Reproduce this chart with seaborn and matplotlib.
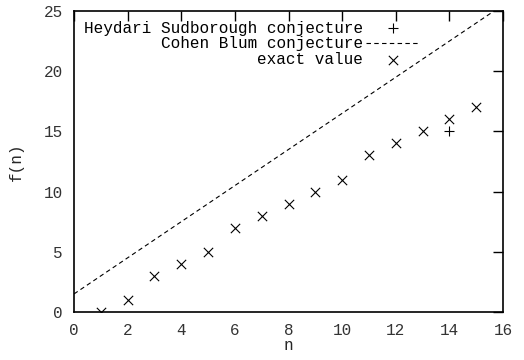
import matplotlib
matplotlib.use("Agg")
import matplotlib.pyplot as plt
import seaborn as sns
import pandas as pd

# data
exact_n = [1, 2, 3, 4, 5, 6, 7, 8, 9, 10, 11, 12, 13, 14, 15]
exact_f = [0, 1, 3, 4, 5, 7, 8, 9, 10, 11, 13, 14, 15, 16, 17]
hs_n = [14]
hs_f = [15]
cb_n = [0, 16]
cb_f = [1.5, 25.5]
x_ticks = [0, 2, 4, 6, 8, 10, 12, 14, 16]
y_ticks = [0, 5, 10, 15, 20, 25]

sns.set_style("white")
plt.rcParams['font.family'] = ['Liberation Mono', 'DejaVu Sans Mono']
plt.rcParams['font.size'] = 11.5

fig = plt.figure(figsize=(5.24, 3.6), dpi=100)
ax = fig.add_axes([74/524, 1-312/360, (503-74)/524, (312-11)/360])

sns.scatterplot(x=hs_n, y=hs_f, marker="+", s=45, color="black",
                linewidth=0.8, ax=ax, label="Heydari Sudborough conjecture")
sns.lineplot(x=cb_n, y=cb_f, color="black", linestyle=(0, (4, 3)),
             linewidth=0.8, ax=ax, label="Cohen Blum conjecture")
sns.scatterplot(x=exact_n, y=exact_f, marker="x", s=45, color="black",
                linewidth=0.8, ax=ax, label="exact value")

ax.set_xlim(0, 16)
ax.set_ylim(0, 25)
ax.set_xticks(x_ticks)
ax.set_yticks(y_ticks)
ax.set_xlabel("n", labelpad=0)
ax.set_ylabel("f(n)", labelpad=14)
ax.tick_params(direction="in", length=7, width=1, top=True, right=True,
               colors="black", labelcolor="#333333", pad=8)
for s in ax.spines.values():
    s.set_color("black")
    s.set_linewidth(1.2)

leg = ax.legend(loc="upper left", bbox_to_anchor=(0.0, 1.0), frameon=False,
                markerfirst=False, handlelength=3.4, handletextpad=0.2,
                labelspacing=0.05, borderaxespad=0.2)
for t in leg.get_texts():
    t.set_color("black")

fig.savefig("out.png", dpi=100)
